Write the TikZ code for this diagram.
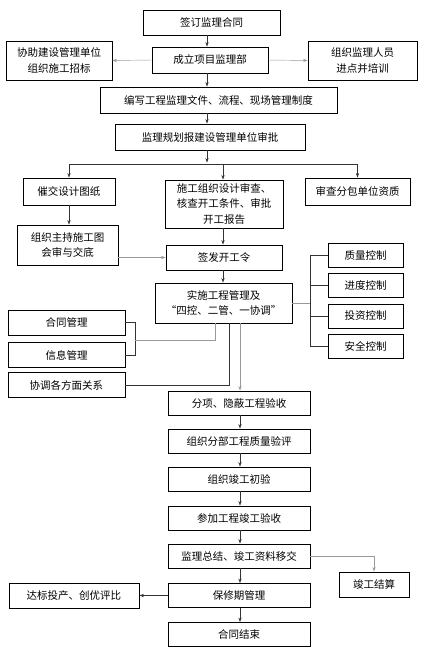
\documentclass[tikz,border=0pt]{standalone}
\usepackage{fontspec}
\newfontfamily\cjk{Noto Sans CJK SC}
\usetikzlibrary{arrows.meta,calc}

\begin{document}
\begin{tikzpicture}[x=1pt,y=-1pt]
	\tikzset{box/.style={draw,line width=0.9pt,align=center,inner sep=1pt,
	    font={\cjk\fontsize{10.5}{15.5}\selectfont},minimum height=25pt}}
	\tikzset{arr/.style={-{Stealth[length=4.5pt,width=3.2pt]},draw=black!80,line width=0.45pt}}
	\tikzset{link/.style={draw=black!80,line width=0.45pt}}
	\tikzset{pale/.style={draw=black!40}}
	\useasboundingbox (0,0) rectangle (428,665);

	% guide lines
	\coordinate (upx) at (207,0);
	\coordinate (midx) at (223,0);
	\coordinate (lowx) at (240,0);
	\coordinate (fork) at (0,164);
	\coordinate (rbr) at (310,0);
	\coordinate (lbr) at (135,340);
	\coordinate (lx) at (215,0);
	\coordinate (cx) at (229,0);

	% top part
	\node[box,minimum width=137pt] (sign) at (211.5,22.5) {签订监理合同};
	\node[box,minimum width=116pt,minimum height=26pt] (setup) at (210,60) {成立项目监理部};
	\node[box,minimum width=106pt,minimum height=39pt] (assist) at (59,60.5) {协助建设管理单位\\组织施工招标};
	\node[box,minimum width=109pt,minimum height=39pt] (staff) at (362.5,60.5) {组织监理人员\\进点并培训};
	\node[box,minimum width=237pt,minimum height=26pt] (rules) at (218.5,100) {编写工程监理文件、流程、现场管理制度};
	\node[box,minimum width=190pt,minimum height=26pt] (plan) at (210,137) {监理规划报建设管理单位审批};

	% three branches
	\node[box,minimum width=92pt,minimum height=27pt] (urge) at (69,191.5) {催交设计图纸};
	\node[box,minimum width=118pt,minimum height=48pt] (check) at (224,204) {施工组织设计审查、\\核查开工条件、审批\\开工报告};
	\node[box,minimum width=105pt,minimum height=27pt] (subc) at (357.5,191.5) {审查分包单位资质};
	\node[box,minimum width=101pt,minimum height=40pt] (review) at (67.5,245) {组织主持施工图\\会审与交底};
	\node[box,minimum width=116pt] (start) at (224,257.5) {签发开工令};
	\node[box,minimum width=137pt,minimum height=40pt] (manage) at (223.5,303) {实施工程管理及\\“四控、二管、一协调”};

	% four controls
	\node[box,minimum width=75pt,minimum height=24pt] (quality) at (365.5,255) {质量控制};
	\node[box,minimum width=75pt,minimum height=24pt] (progress) at (365.5,285.5) {进度控制};
	\node[box,minimum width=75pt,minimum height=24pt] (invest) at (365.5,316) {投资控制};
	\node[box,minimum width=75pt,minimum height=24pt] (safety) at (365.5,346.5) {安全控制};

	% two managements, one coordination
	\node[box,minimum width=117pt] (contract) at (66.5,322.5) {合同管理};
	\node[box,minimum width=117pt] (info) at (66.5,355) {信息管理};
	\node[box,minimum width=117pt] (coord) at (66.5,385) {协调各方面关系};

	% lower part
	\node[box,minimum width=142pt,minimum height=24pt] (insp) at (239,403) {分项、隐蔽工程验收};
	\node[box,minimum width=142pt,minimum height=24pt] (eval) at (239,441) {组织分部工程质量验评};
	\node[box,minimum width=142pt,minimum height=24pt] (prelim) at (239,479) {组织竣工初验};
	\node[box,minimum width=142pt,minimum height=24pt] (accept) at (239,518) {参加工程竣工验收};
	\node[box,minimum width=142pt,minimum height=24pt] (summary) at (239,556) {监理总结、竣工资料移交};
	\node[box,minimum width=142pt,minimum height=24pt] (warranty) at (239,595.5) {保修期管理};
	\node[box,minimum width=142pt,minimum height=24pt] (close) at (239,634.5) {合同结束};
	\node[box,minimum width=70pt] (settle) at (374,584.5) {竣工结算};
	\node[box,minimum width=130pt] (award) at (74,595.5) {达标投产、创优评比};

	% edges, top part
	\draw[arr] (sign.south -| upx) -- (setup.north -| upx);
	\draw[arr,pale] (setup.west) -- (assist.east);
	\draw[arr,pale] (setup.east) -- (staff.west);
	\draw[arr] (setup.south -| upx) -- (rules.north -| upx);
	\draw[arr] (rules.south -| upx) -- (plan.north -| upx);
	\draw[arr] (plan.south -| upx) -- ($(fork -| upx)+(0,-1.5)$);
	\draw[link] (fork -| urge) -- (fork -| subc);
	\draw[arr] (fork -| urge) -- (urge.north);
	\draw[arr] (fork -| midx) -- (check.north -| midx);
	\draw[arr] (fork -| subc) -- (subc.north);

	% edges, middle part
	\draw[arr] (urge.south) -- (review.north -| urge);
	\draw[arr,pale] (review.east |- start.west) -- (start.west);
	\draw[arr] (check.south -| midx) -- (start.north -| midx);
	\draw[arr] (start.south -| midx) -- (manage.north -| midx);
	\draw[link] (quality.west) -- (quality.west -| rbr) -- (safety.west -| rbr) -- (safety.west);
	\draw[link] (progress.west) -- (progress.west -| rbr);
	\draw[link] (invest.west) -- (invest.west -| rbr);
	\draw[link,pale] (manage.east) -- (manage.east -| rbr);
	\draw[link] (contract.east) -- (contract.east -| lbr) -- (info.east -| lbr) -- (info.east);
	\draw[link,pale] (lbr) -| (manage.south -| lx);
	\draw[link] (coord.east) -| (manage.south -| cx);
	\draw[arr,pale] (manage.south -| lowx) -- (insp.north -| lowx);

	% edges, lower part
	\draw[arr] (insp.south -| lowx) -- (eval.north -| lowx);
	\draw[arr] (eval.south -| lowx) -- (prelim.north -| lowx);
	\draw[arr] (prelim.south -| lowx) -- (accept.north -| lowx);
	\draw[arr] (accept.south -| lowx) -- (summary.north -| lowx);
	\draw[arr] (summary.south -| lowx) -- (warranty.north -| lowx);
	\draw[arr] (warranty.south -| lowx) -- (close.north -| lowx);
	\draw[arr,pale] (summary.east) -| (settle.north);
	\draw[arr] (warranty.west) -- (award.east);
\end{tikzpicture}
\end{document}
